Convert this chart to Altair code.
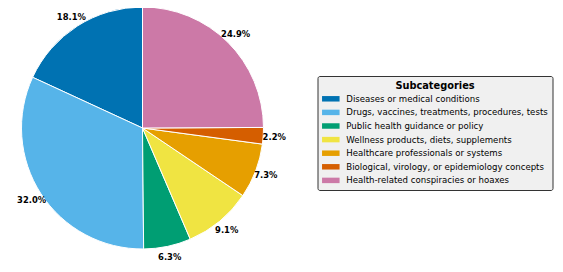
import altair as alt
import pandas as pd

categories = [
    "Diseases or medical conditions",
    "Drugs, vaccines, treatments, procedures, tests",
    "Public health guidance or policy",
    "Wellness products, diets, supplements",
    "Healthcare professionals or systems",
    "Biological, virology, or epidemiology concepts",
    "Health-related conspiracies or hoaxes",
]
shares = [18.1, 32.0, 6.3, 9.1, 7.3, 2.2, 24.9]
colors = ["#0072B2", "#56B4E9", "#009E73", "#F0E442", "#E69F00", "#D55E00", "#CC79A7"]

df = pd.DataFrame({
    "category": categories,
    "share": shares,
    "label": [f"{v:.1f}%" for v in shares],
    "rank": list(range(len(categories))),
})

base = alt.Chart(df).encode(
    theta=alt.Theta("share:Q", stack=True),
    order=alt.Order("rank:Q", sort="descending"),
)

arcs = base.mark_arc(radius=121, stroke="white", strokeWidth=1).encode(
    color=alt.Color(
        "category:N",
        scale=alt.Scale(domain=categories, range=colors),
        legend=alt.Legend(
            title="Subcategories",
            orient="none",
            legendX=309.5,
            legendY=68,
            titleFont="DejaVu Sans",
            titleFontWeight="bold",
            titleFontSize=9.8,
            titleColor="black",
            titleAnchor="middle",
            titleAlign="center",
            titlePadding=3,
            labelFont="DejaVu Sans",
            labelFontSize=8.6,
            labelColor="black",
            labelLimit=400,
            labelOffset=10,
            symbolType="M-1.6,-0.5L1.6,-0.5L1.6,0.5L-1.6,0.5Z",
            symbolSize=120,
            symbolOffset=3.3,
            symbolStrokeWidth=0,
            symbolOpacity=1,
            rowPadding=2.6,
            padding=4.5,
            fillColor="#f0f0f0",
            strokeColor="#333333",
            cornerRadius=2,
        ),
    )
)

labels = base.mark_text(
    radius=132, font="DejaVu Sans", fontWeight="bold", fontSize=8.4, color="black"
).encode(text="label:N")

chart = (
    alt.layer(arcs, labels)
    .properties(
        width=269,
        height=240,
        autosize=alt.AutoSizeParams(type="none"),
        padding={"left": 0, "top": 0, "right": 278, "bottom": 16},
    )
    .configure_view(stroke=None)
)

chart.save("out.html", embed_options={"renderer": "svg", "actions": False})
